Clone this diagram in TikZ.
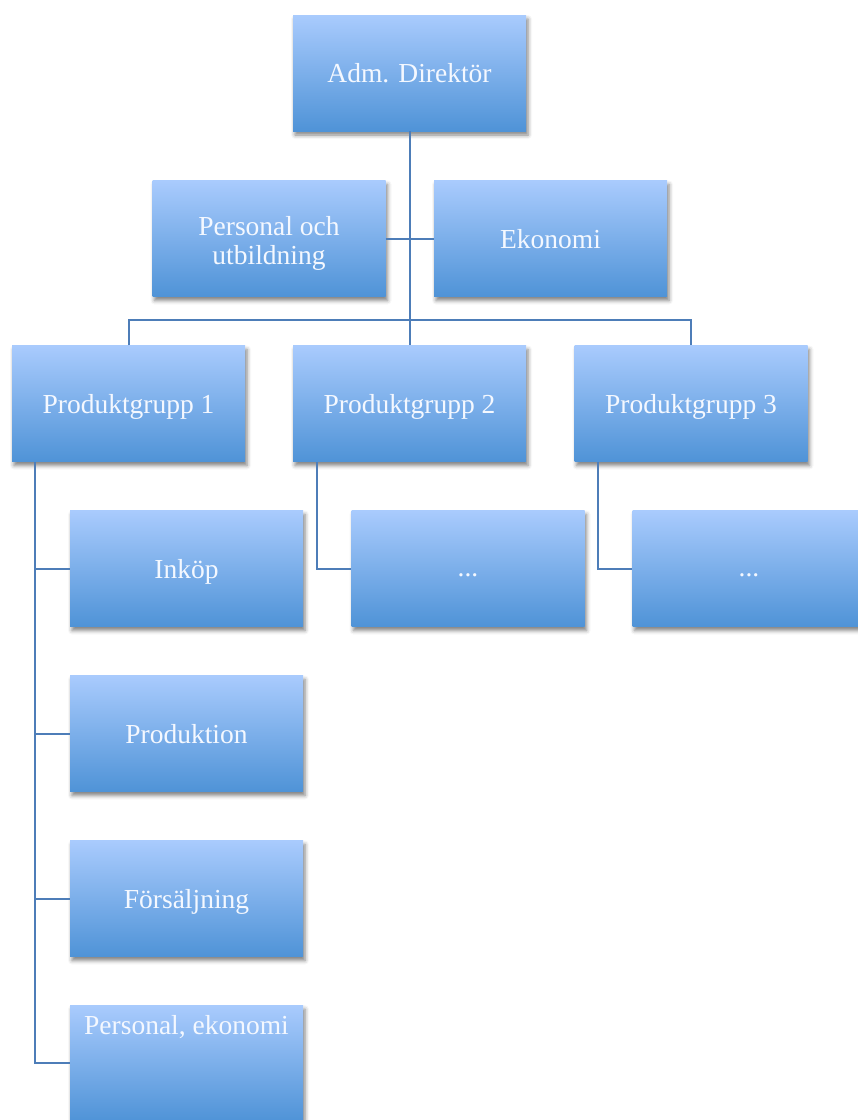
\documentclass[tikz,border=0pt]{standalone}
\usepackage{fontspec}
\setmainfont{Liberation Serif}
\usetikzlibrary{shadows.blur}
\definecolor{boxtop}{HTML}{A9CBFD}
\definecolor{boxbot}{HTML}{4F93D7}
\definecolor{linkblue}{HTML}{4D7DB8}
\definecolor{labelwhite}{HTML}{F4F8FF}
\tikzset{
  unit/.style={x=1pt,y=-1pt},
  orgbox/.style={rectangle, minimum width=233pt, minimum height=116pt, inner sep=0pt,
    top color=boxtop, bottom color=boxbot, draw=none,
    blur shadow={shadow xshift=2pt, shadow yshift=-4pt, shadow blur radius=4pt, shadow opacity=50},
    text=labelwhite, font=\fontsize{27.5}{29}\selectfont, align=center, text depth=0pt},
  boxlabel/.style={text=labelwhite, font=\fontsize{27.5}{29}\selectfont, inner sep=0pt},
  link/.style={draw=linkblue, line width=2pt}
}
\begin{document}
\begin{tikzpicture}[unit]
\useasboundingbox (0,0) rectangle (858,1120);
\clip (0,0) rectangle (858,1120);

% top level
\node[orgbox] (adm) at (409.5,73) {Adm. Direktör};

% staff functions
\node[orgbox, text height=52pt] (pou) at (269,238.5) {Personal och\\utbildning};
\node[orgbox] (eko) at (550.5,238.5) {Ekonomi};

% product groups
\node[orgbox] (pg1) at (128.5,403.5) {Produktgrupp 1};
\node[orgbox] (pg2) at (409.5,403.5) {Produktgrupp 2};
\node[orgbox] (pg3) at (691,403.5) {Produktgrupp 3};

% units under product group 1
\node[orgbox] (ink) at (186.5,568.5) {Inköp};
\node[orgbox] (prd) at (186.5,733.5) {Produktion};
\node[orgbox] (frs) at (186.5,898.5) {Försäljning};
\node[orgbox, anchor=north] (pe) at (186.5,1005) {};
\node[boxlabel, anchor=north] (pelabel) at ([yshift=-10pt]pe.north) {Personal, ekonomi};

% units under product groups 2 and 3
\node[orgbox, text height=15pt] (d2) at (468,568.5) {...};
\node[orgbox, text height=15pt] (d3) at (749,568.5) {...};

% branch points
\coordinate (bus) at (409.5,320);
\coordinate (t1) at (35,462);
\coordinate (t2) at (317,462);
\coordinate (t3) at (598,462);

\draw[link] (adm.south) -- (bus);
\draw[link] (pou.east) -- (eko.west);
\draw[link] (pg1.north) |- (bus) -| (pg3.north);
\draw[link] (bus) -- (pg2.north);
\draw[link] (t1) |- (pe.west);
\draw[link] (ink.west) -- (ink.west -| t1);
\draw[link] (prd.west) -- (prd.west -| t1);
\draw[link] (frs.west) -- (frs.west -| t1);
\draw[link] (t2) |- (d2.west);
\draw[link] (t3) |- (d3.west);
\end{tikzpicture}
\end{document}
